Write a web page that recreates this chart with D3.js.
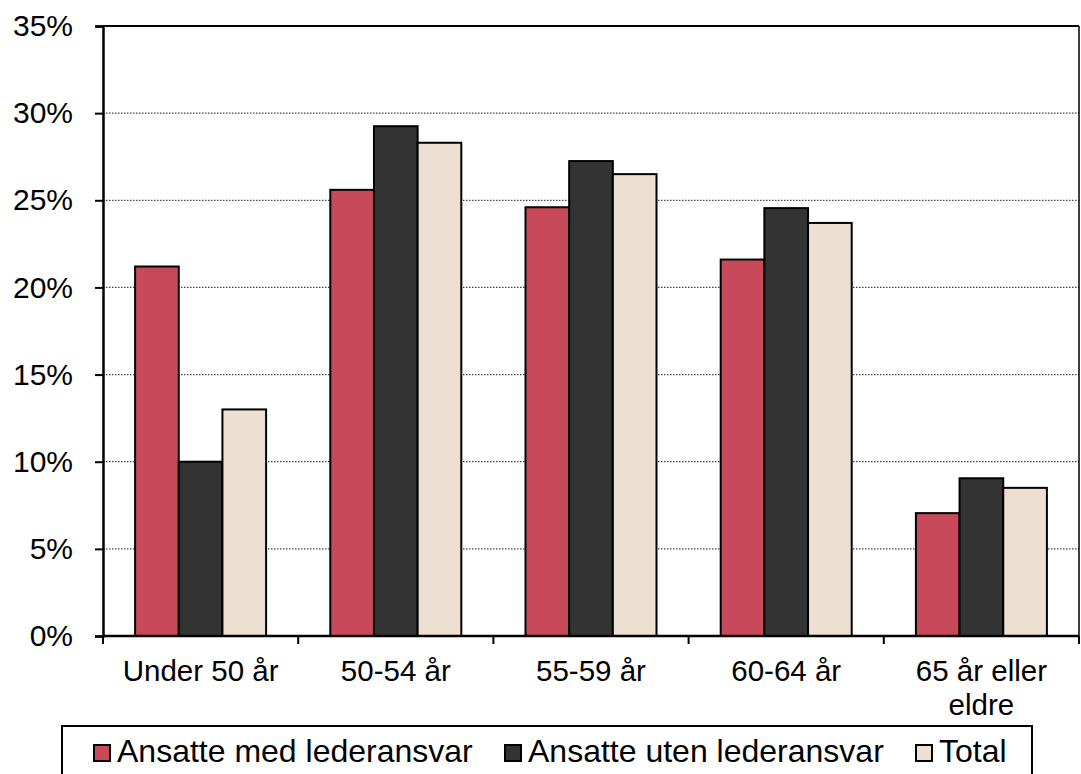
<!DOCTYPE html>
<html>
<head>
<meta charset="utf-8">
<script src="https://cdn.jsdelivr.net/npm/d3@7/dist/d3.min.js"></script>
<style>
  html, body { margin: 0; padding: 0; background: #fff; }
  svg { display: block; }
  text { font-family: "Liberation Sans", Arial, sans-serif; fill: #000; }
</style>
</head>
<body>
<svg id="chart" width="1081" height="774"></svg>
<script>
const categories = ["Under 50 år", "50-54 år", "55-59 år", "60-64 år", "65 år eller eldre"];
const categoryLines = [["Under 50 år"], ["50-54 år"], ["55-59 år"], ["60-64 år"], ["65 år eller", "eldre"]];
const seriesNames = ["Ansatte med lederansvar", "Ansatte uten lederansvar", "Total"];
const medLederansvar = [21.2, 25.6, 24.6, 21.6, 7.05];
const utenLederansvar = [10.0, 29.25, 27.25, 24.55, 9.05];
const total = [13.0, 28.3, 26.5, 23.7, 8.5];
const seriesColors = ["#C84A5A", "#333333", "#EBE0D1"];
const yTicks = [0, 5, 10, 15, 20, 25, 30, 35];

const seriesValues = [medLederansvar, utenLederansvar, total];

const svg = d3.select("#chart");
const pLeft = 103, pRight = 1079, pTop = 26, pBottom = 636;

const x = d3.scaleBand().domain(categories).range([pLeft, pRight]).paddingInner(0).paddingOuter(0);
const xSub = d3.scaleBand().domain(seriesNames).range([0, x.bandwidth()]).paddingInner(0).paddingOuter(0.735);
const y = d3.scaleLinear().domain([0, 35]).range([pBottom, pTop]);

// gridlines (dotted)
svg.append("g").selectAll("line")
  .data(yTicks.filter(t => t > 0 && t < 35))
  .join("line")
  .attr("x1", pLeft).attr("x2", pRight)
  .attr("y1", d => y(d)).attr("y2", d => y(d))
  .attr("stroke", "#444").attr("stroke-width", 1.2)
  .attr("stroke-dasharray", "1.5,1.5");

// top and right frame
svg.append("line").attr("x1", pLeft).attr("x2", pRight).attr("y1", y(35)).attr("y2", y(35))
  .attr("stroke", "#000").attr("stroke-width", 2);
svg.append("line").attr("x1", pRight).attr("x2", pRight).attr("y1", pTop).attr("y2", pBottom)
  .attr("stroke", "#000").attr("stroke-width", 1.5);

// bars
const groups = svg.append("g").selectAll("g")
  .data(categories)
  .join("g")
  .attr("transform", d => `translate(${x(d)},0)`);

groups.selectAll("rect")
  .data((d, i) => seriesNames.map((s, j) => ({ s, v: seriesValues[j][i], j })))
  .join("rect")
  .attr("x", d => xSub(d.s))
  .attr("width", xSub.bandwidth())
  .attr("y", d => y(d.v))
  .attr("height", d => y(0) - y(d.v))
  .attr("fill", d => seriesColors[d.j])
  .attr("stroke", "#000")
  .attr("stroke-width", 2);

// y axis
const yAxis = d3.axisLeft(y).tickValues(yTicks).tickFormat(d => d + "%").tickSize(8).tickPadding(22);
const yg = svg.append("g").attr("transform", `translate(${pLeft},0)`).call(yAxis);
yg.select(".domain").attr("stroke", "#000").attr("stroke-width", 2.5);
yg.selectAll(".tick line").attr("stroke", "#000").attr("stroke-width", 2);
yg.selectAll(".tick text")
  .style("font-family", "'Liberation Sans', Arial, sans-serif")
  .style("font-size", "30px").attr("fill", "#000");

// x axis
const xg = svg.append("g").attr("transform", `translate(0,${pBottom})`);
xg.append("line").attr("x1", pLeft).attr("x2", pRight).attr("y1", 0).attr("y2", 0)
  .attr("stroke", "#000").attr("stroke-width", 2.5);
const boundaries = categories.map(c => x(c)).concat([pRight]);
xg.selectAll("line.tk").data(boundaries).join("line").attr("class", "tk")
  .attr("x1", d => d).attr("x2", d => d).attr("y1", 0).attr("y2", 8)
  .attr("stroke", "#000").attr("stroke-width", 2);

categories.forEach((c, i) => {
  const t = svg.append("text")
    .attr("x", x(c) + x.bandwidth() / 2)
    .attr("y", 681)
    .attr("text-anchor", "middle")
    .style("font-size", "29.5px");
  categoryLines[i].forEach((ln, k) => {
    t.append("tspan").attr("x", x(c) + x.bandwidth() / 2).attr("dy", k === 0 ? 0 : 34).text(ln);
  });
});

// legend
svg.append("rect").attr("x", 62).attr("y", 726).attr("width", 970).attr("height", 70)
  .attr("fill", "#fff").attr("stroke", "#000").attr("stroke-width", 2);
const legendX = [94, 505, 916];
seriesNames.forEach((s, i) => {
  svg.append("rect").attr("x", legendX[i]).attr("y", 745).attr("width", 16).attr("height", 16)
    .attr("fill", seriesColors[i]).attr("stroke", "#000").attr("stroke-width", 2);
  svg.append("text").attr("x", legendX[i] + 23).attr("y", 762)
    .style("font-size", "32px").text(s);
});
</script>
</body>
</html>
